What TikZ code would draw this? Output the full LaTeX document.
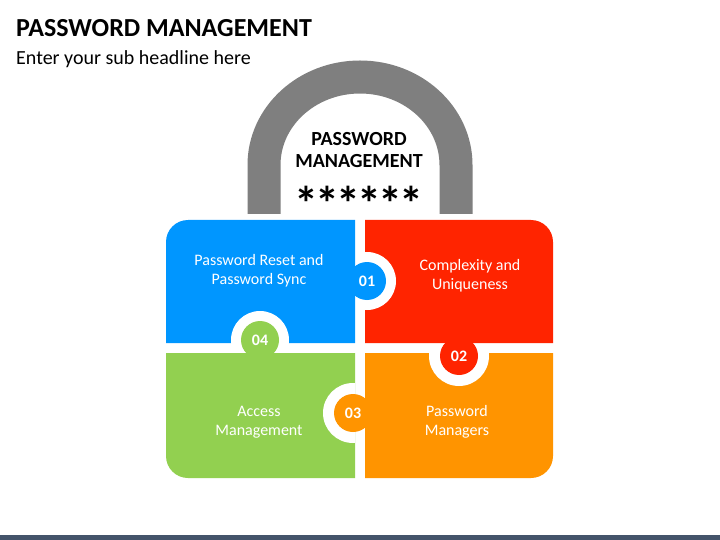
\documentclass[tikz,border=0pt]{standalone}
\usepackage{fontspec}
\setmainfont{Carlito}
\usepackage{tikz}
\definecolor{pblue}{RGB}{0,150,255}
\definecolor{pred}{RGB}{255,36,0}
\definecolor{pgreen}{RGB}{146,208,80}
\definecolor{porange}{RGB}{255,148,0}
\definecolor{pgray}{RGB}{127,127,127}
\definecolor{pbar}{RGB}{68,84,106}

\begin{document}
\begin{tikzpicture}[x=1pt, y=-1pt,
  tab/.style={circle, minimum size=38pt, inner sep=0pt, text=white,
    font=\bfseries\fontsize{16}{16}\selectfont},
  lbl/.style={align=center, text=white, font=\fontsize{16}{19}\selectfont}]
  \useasboundingbox[fill=white] (0,0) rectangle (720,540);
  \fill[pbar] (0,535) rectangle (720,540);
  % headline
  \node[anchor=base west, inner sep=0pt, font=\bfseries\fontsize{26}{26}\selectfont] (title) at (16,37) {PASSWORD MANAGEMENT};
  \node[anchor=base west, inner sep=0pt, font=\fontsize{20}{20}\selectfont] (sub) at (16,65) {Enter your sub headline here};
  % shackle
  \draw[pgray, line width=33pt] (264,214) -- (264,165)
    arc[start angle=180, end angle=360, x radius=96, y radius=88] -- (456,214);
  \node[align=center, font=\bfseries\fontsize{20}{22}\selectfont] (lock) at (359,150) {PASSWORD\\MANAGEMENT};
  \node[font=\bfseries\fontsize{48}{48}\selectfont] (stars) at (359,203)
    {*\kern-3pt*\kern-3pt*\kern-3pt*\kern-3pt*\kern-3pt*};
  % puzzle pieces
  \fill[pblue] (355,220) -- (188,220) arc[start angle=270, end angle=180, radius=22] -- (166,343) -- (355,343) -- cycle;
  \fill[pred] (365,220) -- (531,220) arc[start angle=270, end angle=360, radius=22] -- (553,343) -- (365,343) -- cycle;
  \fill[pgreen] (355,353) -- (166,353) -- (166,456) arc[start angle=180, end angle=90, radius=22] -- (355,478) -- cycle;
  \fill[porange] (365,353) -- (553,353) -- (553,456) arc[start angle=0, end angle=90, radius=22] -- (365,478) -- cycle;
  % white rings cut into the neighbour piece
  \begin{scope}
    \clip (365,220) rectangle (553,343);
    \fill[white] (367,281) circle[radius=29];
  \end{scope}
  \begin{scope}
    \clip (365,353) rectangle (553,478);
    \fill[white] (459,356) circle[radius=30];
  \end{scope}
  \begin{scope}
    \clip (166,353) rectangle (355,478);
    \fill[white] (353,413) circle[radius=30];
  \end{scope}
  \begin{scope}
    \clip (166,220) rectangle (355,343);
    \fill[white] (260,340) circle[radius=29];
  \end{scope}
  \node[tab, fill=pblue] (t1) at (367,281) {01};
  \node[tab, fill=pred] (t2) at (459,356) {02};
  \node[tab, fill=porange] (t3) at (353,413) {03};
  \node[tab, fill=pgreen] (t4) at (260,340) {04};
  % labels
  \node[lbl] (reset) at (259,271) {Password Reset and\\Password Sync};
  \node[lbl] (complex) at (470,276) {Complexity and\\Uniqueness};
  \node[lbl] (access) at (259,422) {Access\\Management};
  \node[lbl] (managers) at (457,422) {Password\\Managers};
\end{tikzpicture}
\end{document}
